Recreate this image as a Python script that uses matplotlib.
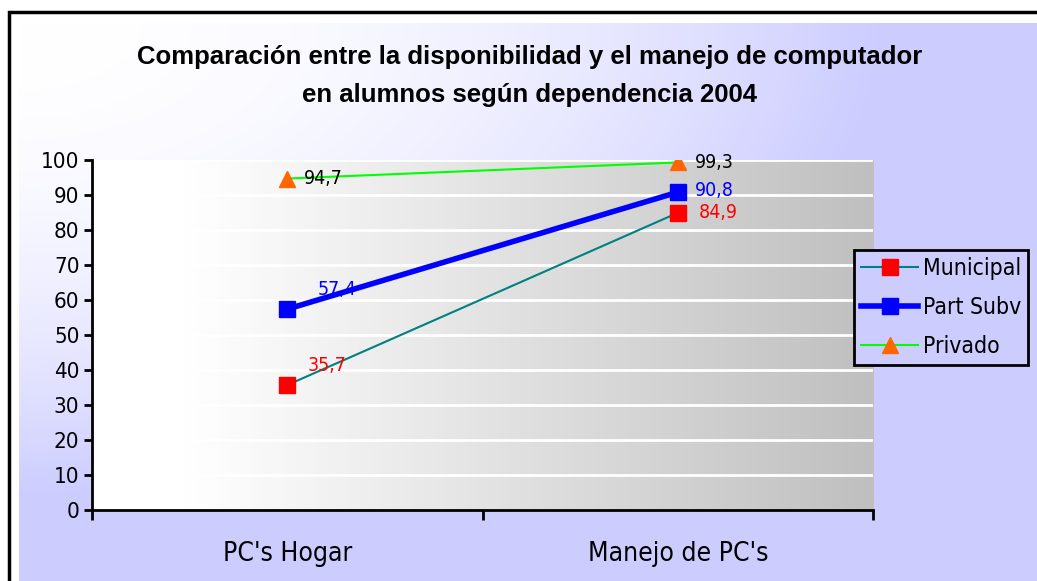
import matplotlib
matplotlib.use('Agg')
import matplotlib.pyplot as plt
import numpy as np
from matplotlib.patches import Rectangle

# Datos
categorias = ["PC's Hogar", "Manejo de PC's"]
municipal = [35.7, 84.9]
part_subv = [57.4, 90.8]
privado = [94.7, 99.3]
etiq_municipal = ['35,7', '84,9']
etiq_part_subv = ['57,4', '90,8']
etiq_privado = ['94,7', '99,3']
y_ticks = list(range(0, 101, 10))

plt.rcParams['font.family'] = ['DejaVu Sans']
plt.rcParams['font.stretch'] = 'condensed'

W, H = 1037, 581
fig = plt.figure(figsize=(W / 100, H / 100), dpi=100)
fig.patch.set_facecolor('white')

# Fondo del grafico con degradado blanco -> lavanda (desde la esquina superior izquierda)
bg = fig.add_axes([19 / W, 0, 1 - 19 / W, 1 - 23 / H], zorder=0)
gx = np.linspace(0, 1, 300)[None, :]
gy = np.linspace(0, 1, 200)[:, None]
d = np.sqrt(gx ** 2 + gy ** 2)
t = np.clip(d / 0.85, 0, 1) ** 2
c0 = np.array([1.0, 1.0, 1.0])
c1 = np.array([0.8, 0.8, 1.0])
img = c0 + (c1 - c0) * t[..., None]
bg.imshow(img, aspect='auto', extent=[0, 1, 0, 1], origin='upper')
bg.axis('off')

# Marco negro
fig.add_artist(Rectangle((9 / W, -0.05), 1.1, 1 - 12 / H + 0.05, transform=fig.transFigure,
                         fill=False, edgecolor='black', linewidth=2.5, zorder=1))

ax = fig.add_axes([92 / W, 1 - 510 / H, (873 - 92) / W, 350 / H], zorder=2)
x = np.arange(len(categorias))

# Degradado del area de trazado: blanco -> gris
pg = np.linspace(0, 1, 300)[None, :]
pt = np.clip((pg - 0.12) / 0.88, 0, 1)
pimg = np.ones((1, 300, 3)) - (1 - 0.75) * pt[..., None]
ax.imshow(pimg, aspect='auto', extent=[-0.5, 1.5, 0, 100], zorder=0)

for v in y_ticks[1:]:
    ax.axhline(v, color='white', linewidth=2, zorder=1)

ax.plot(x, municipal, color='#008080', linewidth=1.5, marker='s', markersize=11,
        markerfacecolor='#ff0000', markeredgecolor='#ff0000', label='Municipal', zorder=4)
ax.plot(x, part_subv, color='#0000ff', linewidth=4, marker='s', markersize=11,
        markerfacecolor='#0000ff', markeredgecolor='#0000ff', label='Part Subv', zorder=4)
ax.plot(x, privado, color='#00ff00', linewidth=1.5, marker='^', markersize=11,
        markerfacecolor='#ff6600', markeredgecolor='#ff6600', label='Privado', zorder=4)

# Etiquetas de datos
fs_lbl = 14
ax.annotate(etiq_privado[0], (x[0], privado[0]), xytext=(12, 0), textcoords='offset points',
            va='center', ha='left', fontsize=fs_lbl, color='black', zorder=5)
ax.annotate(etiq_privado[1], (x[1], privado[1]), xytext=(12, 0), textcoords='offset points',
            va='center', ha='left', fontsize=fs_lbl, color='black', zorder=5)
ax.annotate(etiq_part_subv[0], (x[0], part_subv[0]), xytext=(22, 14), textcoords='offset points',
            va='center', ha='left', fontsize=fs_lbl, color='#0000ff', zorder=5)
ax.annotate(etiq_part_subv[1], (x[1], part_subv[1]), xytext=(12, 1), textcoords='offset points',
            va='center', ha='left', fontsize=fs_lbl, color='#0000ff', zorder=5)
ax.annotate(etiq_municipal[0], (x[0], municipal[0]), xytext=(15, 14), textcoords='offset points',
            va='center', ha='left', fontsize=fs_lbl, color='#ff0000', zorder=5)
ax.annotate(etiq_municipal[1], (x[1], municipal[1]), xytext=(15, 0), textcoords='offset points',
            va='center', ha='left', fontsize=fs_lbl, color='#ff0000', zorder=5)

ax.set_xlim(-0.5, 1.5)
ax.set_ylim(0, 100)
ax.set_yticks(y_ticks)
ax.set_yticklabels([str(v) for v in y_ticks], fontsize=16)
ax.set_xticks([-0.5, 0.5, 1.5])
ax.set_xticklabels([])
ax.set_xticks(x, minor=True)
ax.set_xticklabels(categorias, minor=True, fontsize=19)
ax.tick_params(axis='x', which='minor', length=0, pad=22)
ax.tick_params(axis='x', which='major', length=7, width=2, direction='out')
ax.tick_params(axis='y', length=6, width=2, direction='out', pad=3)
for s in ['top', 'right']:
    ax.spines[s].set_visible(False)
for s in ['left', 'bottom']:
    ax.spines[s].set_linewidth(2)
ax.set_facecolor('none')

leg = fig.legend(loc='upper left', bbox_to_anchor=(854 / W, 1 - 250 / H), fontsize=16.5,
                 frameon=True, fancybox=False, edgecolor='black', facecolor='#ccccff',
                 framealpha=1, handlelength=2.5, borderpad=0.3, labelspacing=0.7,
                 handletextpad=0.2, borderaxespad=0)
leg.get_frame().set_linewidth(2)
leg.set_zorder(6)

fig.text(530 / W, 1 - 76 / H,
         'Comparación entre la disponibilidad y el manejo de computador\nen alumnos según dependencia 2004',
         ha='center', va='center', fontsize=18.5, fontweight='bold', family='Liberation Sans',
         fontstretch='normal', linespacing=1.75, zorder=3)

fig.savefig('out.png', dpi=100)
